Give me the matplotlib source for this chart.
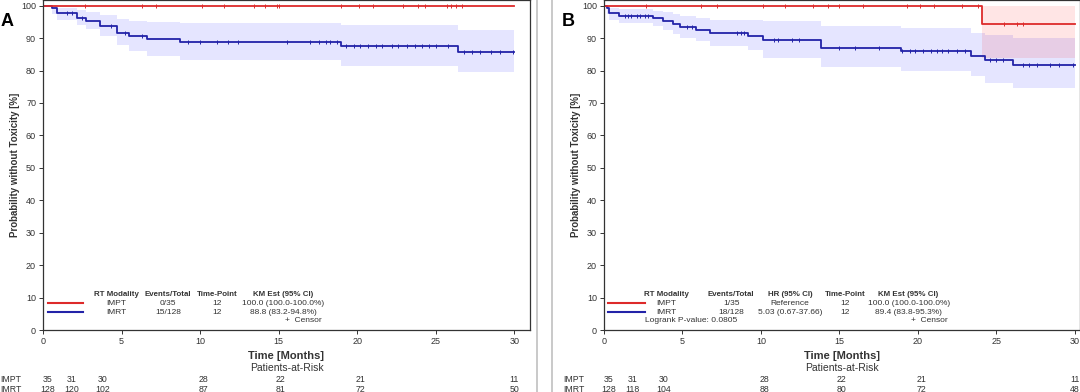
import numpy as np
import matplotlib
matplotlib.use('Agg')
import matplotlib.pyplot as plt
from matplotlib.transforms import blended_transform_factory

plt.rcParams['font.family'] = ['Liberation Sans', 'DejaVu Sans']

RED = '#dd2a2a'
BLUE = '#2323a8'
TXT = '#333333'

# ---------------- panel A data ----------------
a_impt_t = [0]
a_impt_s = [100]
a_impt_cens = [2.7, 6.3, 7.2, 10.1, 11.5, 13.4, 14.1, 14.9, 15.0, 19.0, 20.1,
               21.0, 22.9, 23.9, 24.3, 25.7, 26.0, 26.3, 26.7]

a_imrt_t = [0, 0.55, 0.9, 2.15, 2.75, 3.6, 4.7, 5.5, 6.6, 8.7, 19.0, 26.4]
a_imrt_s = [100, 99.2, 97.6, 96.1, 95.3, 93.7, 91.7, 90.7, 89.6, 88.8, 87.5, 85.8]
a_imrt_lo = [100, 97.5, 95.6, 94.0, 92.7, 90.7, 88.0, 86.0, 84.5, 83.2, 81.5, 79.4]
a_imrt_hi = [100, 100, 99.3, 98.6, 98.0, 97.0, 95.9, 95.3, 95.0, 94.6, 94.0, 92.6]
a_imrt_cens = [1.5, 1.85, 2.5, 4.3, 5.2, 6.3, 9.2, 10.0, 11.1, 11.8, 12.4, 15.5,
               17.0, 17.6, 18.0, 18.3, 18.7, 19.3, 19.8, 20.2, 20.7, 21.2, 21.6,
               22.2, 22.6, 23.2, 23.7, 24.1, 24.6, 25.0, 25.8, 26.8, 27.3, 27.8,
               28.5, 29.1, 29.9]

# ---------------- panel B data ----------------
b_impt_t = [0, 24.1]
b_impt_s = [100, 94.3]
b_impt_lo = [100, 84.0]
b_impt_hi = [100, 100]
b_impt_cens = [2.7, 6.2, 7.2, 10.1, 11.5, 13.3, 14.3, 15.0, 16.5, 19.3, 20.1,
               21.0, 22.8, 23.8, 25.5, 26.3, 26.7]

b_imrt_t = [0, 0.2, 0.35, 0.95, 3.1, 3.75, 4.4, 4.85, 5.85, 6.75, 9.2, 10.1,
            13.8, 18.9, 23.4, 24.3, 26.05]
b_imrt_s = [100, 99.2, 97.6, 96.9, 96.1, 95.3, 94.2, 93.3, 92.6, 91.5, 90.5,
            89.4, 87.0, 86.1, 84.6, 83.3, 81.7]
b_imrt_lo = [100, 97.5, 95.5, 94.6, 93.6, 92.6, 91.2, 90.0, 89.0, 87.6, 86.2,
             83.8, 81.0, 80.0, 78.2, 76.3, 74.6]
b_imrt_hi = [100, 100, 99.3, 98.9, 98.5, 98.0, 97.4, 96.8, 96.3, 95.7, 95.5,
             95.3, 93.8, 93.0, 91.5, 91.0, 90.0]
b_imrt_cens = [1.35, 1.5, 1.75, 2.1, 2.3, 2.6, 2.8, 5.3, 5.6, 8.5, 8.7, 8.9,
               10.8, 11.1, 12.0, 12.4, 15.0, 16.0, 17.5, 19.0, 19.5, 19.8, 20.3,
               20.8, 21.2, 21.5, 21.9, 22.5, 23.0, 24.6, 25.0, 25.4, 26.7, 27.1,
               27.6, 28.4, 29.0, 29.9]

# ---------------- risk tables ----------------
risk_times = [0.3, 1.8, 3.8, 10.2, 15.1, 20.2, 30]
a_risk_impt = [35, 31, 30, 28, 22, 21, 11]
a_risk_imrt = [128, 120, 102, 87, 81, 72, 50]
b_risk_impt = [35, 31, 30, 28, 22, 21, 11]
b_risk_imrt = [128, 118, 104, 88, 80, 72, 48]

# ---------------- legend tables ----------------
a_cols = ['RT Modality', 'Events/Total', 'Time-Point', 'KM Est (95% CI)']
a_col_x = [4.65, 7.96, 11.08, 15.29]
a_rows = [['IMPT', '0/35', '12', '100.0 (100.0-100.0%)'],
          ['IMRT', '15/128', '12', '88.8 (83.2-94.8%)']]
b_cols = ['RT Modality', 'Events/Total', 'HR (95% CI)', 'Time-Point', 'KM Est (95% CI)']
b_col_x = [3.95, 8.1, 11.85, 15.35, 19.4]
b_rows = [['IMPT', '1/35', 'Reference', '12', '100.0 (100.0-100.0%)'],
          ['IMRT', '18/128', '5.03 (0.67-37.66)', '12', '89.4 (83.8-95.3%)']]

T_END = 30


def ext(t, v):
    return list(t) + [T_END], list(v) + [v[-1]]


def km(ax, t, s, color, cens, lo=None, hi=None, band=None):
    tt, ss = ext(t, s)
    if lo is not None:
        _, ll = ext(t, lo)
        _, hh = ext(t, hi)
        ax.fill_between(tt, ll, hh, step='post', color=band, alpha=0.1, lw=0)
    ax.step(tt, ss, where='post', color=color, lw=1.3)
    idx = np.searchsorted(t, cens, side='right') - 1
    ax.plot(cens, np.array(s)[idx], ls='none', marker='|', ms=3.5,
            mew=0.7, color=color)


def style(ax, xmax):
    ax.set_xlim(0, xmax)
    ax.set_ylim(0, 101.75)
    ax.set_xticks([0, 5, 10, 15, 20, 25, 30])
    ax.set_yticks(range(0, 101, 10))
    ax.tick_params(labelsize=6.5, colors=TXT, length=3, width=0.7, pad=2)
    for sp in ax.spines.values():
        sp.set_color('#333333')
        sp.set_linewidth(0.9)
    ax.set_ylabel('Probability without Toxicity [%]', fontsize=7,
                  fontweight='bold', color=TXT, labelpad=1)


def legend(ax, cols, col_x, rows, line_x):
    ys = [11.1, 8.3, 5.5]
    for c, x in zip(cols, col_x):
        ax.text(x, ys[0], c, fontsize=5.7, fontweight='bold', ha='center',
                va='center', color=TXT)
    for r, y, col in zip(rows, ys[1:], [RED, BLUE]):
        ax.plot(line_x, [y, y], color=col, lw=1.5)
        for v, x in zip(r, col_x):
            ax.text(x, y, v, fontsize=6.0, ha='center', va='center', color=TXT)


fig = plt.figure(figsize=(10.8, 3.92), dpi=100)
axA = fig.add_axes([43 / 1080, 62 / 392, 487 / 1080, 330 / 392])
axB = fig.add_axes([604 / 1080, 62 / 392, 476 / 1080, 330 / 392])

km(axA, a_imrt_t, a_imrt_s, BLUE, a_imrt_cens, a_imrt_lo, a_imrt_hi, 'blue')
km(axA, a_impt_t, a_impt_s, RED, a_impt_cens)
style(axA, 31.0)
legend(axA, a_cols, a_col_x, a_rows, [0.32, 2.55])
axA.text(17.77, 2.8, '+  Censor', fontsize=6.0, ha='right', va='center', color=TXT)

km(axB, b_imrt_t, b_imrt_s, BLUE, b_imrt_cens, b_imrt_lo, b_imrt_hi, 'blue')
km(axB, b_impt_t, b_impt_s, RED, b_impt_cens, b_impt_lo, b_impt_hi, 'red')
style(axB, 30.32)
legend(axB, b_cols, b_col_x, b_rows, [0.25, 2.6])
axB.text(21.9, 2.8, '+  Censor', fontsize=6.0, ha='right', va='center', color=TXT)
axB.text(2.6, 2.8, 'Logrank P-value: 0.0805', fontsize=6.0, ha='left',
         va='center', color=TXT)

# risk tables and x labels
for ax, lab_x, r1, r2 in [(axA, 0, a_risk_impt, a_risk_imrt),
                          (axB, 563, b_risk_impt, b_risk_imrt)]:
    tr = blended_transform_factory(ax.transData, fig.transFigure)
    cx = np.mean(ax.get_xlim())
    ax.text(cx, 1 - 356 / 392, 'Time [Months]', transform=tr, fontsize=8,
            fontweight='bold', ha='center', va='center', color=TXT)
    ax.text(cx, 1 - 368 / 392, 'Patients-at-Risk', transform=tr, fontsize=7.5,
            ha='center', va='center', color=TXT)
    for x, v1, v2 in zip(risk_times, r1, r2):
        ax.text(x, 1 - 380 / 392, str(v1), transform=tr, fontsize=6.3,
                ha='center', va='center', color=TXT)
        ax.text(x, 1 - 389 / 392, str(v2), transform=tr, fontsize=6.3,
                ha='center', va='center', color=TXT)
    fig.text(lab_x / 1080, 1 - 380 / 392, 'IMPT', fontsize=6.3, ha='left',
             va='center', color=TXT)
    fig.text(lab_x / 1080, 1 - 389 / 392, 'IMRT', fontsize=6.3, ha='left',
             va='center', color=TXT)

fig.text(1 / 1080, 1 - 21 / 392, 'A', fontsize=13, fontweight='bold', va='center')
fig.text(562 / 1080, 1 - 22 / 392, 'B', fontsize=13, fontweight='bold', va='center')

# panel separator lines
for x in [537, 552]:
    fig.add_artist(plt.Line2D([x / 1080, x / 1080], [0, 1], color='#c0c0c0',
                              lw=1.2, transform=fig.transFigure))

fig.savefig('out.png', dpi=100)
